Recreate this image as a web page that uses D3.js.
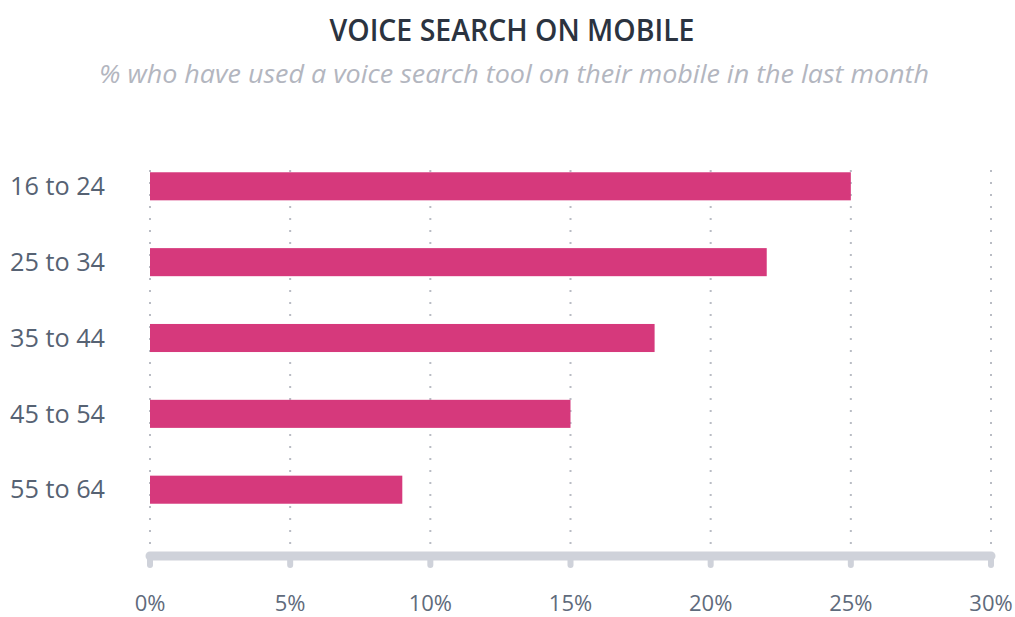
<!DOCTYPE html>
<html>
<head>
<meta charset="utf-8">
<script src="https://cdn.jsdelivr.net/npm/d3@7"></script>
<style>
  body { margin: 0; background: #fff; }
  svg { display: block; font-family: "Open Sans", sans-serif; }
</style>
</head>
<body>
<svg id="chart" width="1015" height="617"></svg>
<script>
const ageGroups = ['16 to 24', '25 to 34', '35 to 44', '45 to 54', '55 to 64'];
const voiceSearch = [25, 22, 18, 15, 9];
const xTicks = [0, 5, 10, 15, 20, 25, 30];

const MARGIN = { top: 148, right: 24, bottom: 0, left: 150 };
const width = 991 - MARGIN.left;
const plotBottom = 528;

const svg = d3.select('#chart');

// title + subtitle, squeezed to mimic the condensed face
svg.append('text')
  .attr('x', 512).attr('y', 41)
  .attr('text-anchor', 'middle')
  .attr('font-size', 30).attr('font-weight', 600)
  .attr('fill', '#2b3340')
  .attr('textLength', 365)
  .attr('lengthAdjust', 'spacingAndGlyphs')
  .text('VOICE SEARCH ON MOBILE');

svg.append('text')
  .attr('x', 514).attr('y', 83)
  .attr('text-anchor', 'middle')
  .attr('font-size', 25).attr('font-style', 'italic')
  .attr('fill', '#b3b6bf')
  .attr('textLength', 830)
  .attr('lengthAdjust', 'spacingAndGlyphs')
  .text('% who have used a voice search tool on their mobile in the last month');

const x = d3.scaleLinear().domain([0, 30]).range([0, width]);
const y = d3.scaleBand().domain(ageGroups).range([0, plotBottom - MARGIN.top]).paddingInner(0.63).paddingOuter(0.32);

const inner = svg.append('g')
  .attr('transform', `translate(${MARGIN.left}, ${MARGIN.top})`);

// dotted grid
inner.append('g').selectAll('line')
  .data(xTicks)
  .join('line')
  .attr('x1', d => x(d)).attr('x2', d => x(d))
  .attr('y1', 22).attr('y2', 400)
  .attr('stroke', '#b9bcc4')
  .attr('stroke-width', 2)
  .attr('stroke-dasharray', '2 10');

// bars
inner.append('g').selectAll('rect')
  .data(voiceSearch)
  .join('rect')
  .attr('x', 0)
  .attr('y', (d, i) => y(ageGroups[i]))
  .attr('width', d => x(d))
  .attr('height', y.bandwidth())
  .attr('fill', '#d6397c');

// category labels
svg.append('g').selectAll('text')
  .data(ageGroups)
  .join('text')
  .attr('x', 10)
  .attr('y', d => MARGIN.top + y(d) + y.bandwidth() / 2)
  .attr('dy', '0.35em')
  .attr('font-size', 25)
  .attr('fill', '#566273')
  .attr('textLength', 95)
  .attr('lengthAdjust', 'spacingAndGlyphs')
  .text(d => d);

// x axis bar with rounded tick stubs
const axisY = 408;
const axis = inner.append('g').attr('class', 'axis');
axis.selectAll('line.stub')
  .data(xTicks)
  .join('line')
  .attr('class', 'stub')
  .attr('x1', d => x(d)).attr('x2', d => x(d))
  .attr('y1', axisY).attr('y2', axisY + 9)
  .attr('stroke', '#cfd2da')
  .attr('stroke-width', 6)
  .attr('stroke-linecap', 'round');
axis.append('line')
  .attr('x1', x(0)).attr('x2', x(30))
  .attr('y1', axisY).attr('y2', axisY)
  .attr('stroke', '#cfd2da')
  .attr('stroke-width', 9)
  .attr('stroke-linecap', 'round');

axis.selectAll('text')
  .data(xTicks)
  .join('text')
  .attr('x', d => x(d))
  .attr('y', axisY + 55)
  .attr('text-anchor', 'middle')
  .attr('font-size', 22)
  .attr('fill', '#5f6b7c')
  .text(d => `${d}%`);
</script>
</body>
</html>
